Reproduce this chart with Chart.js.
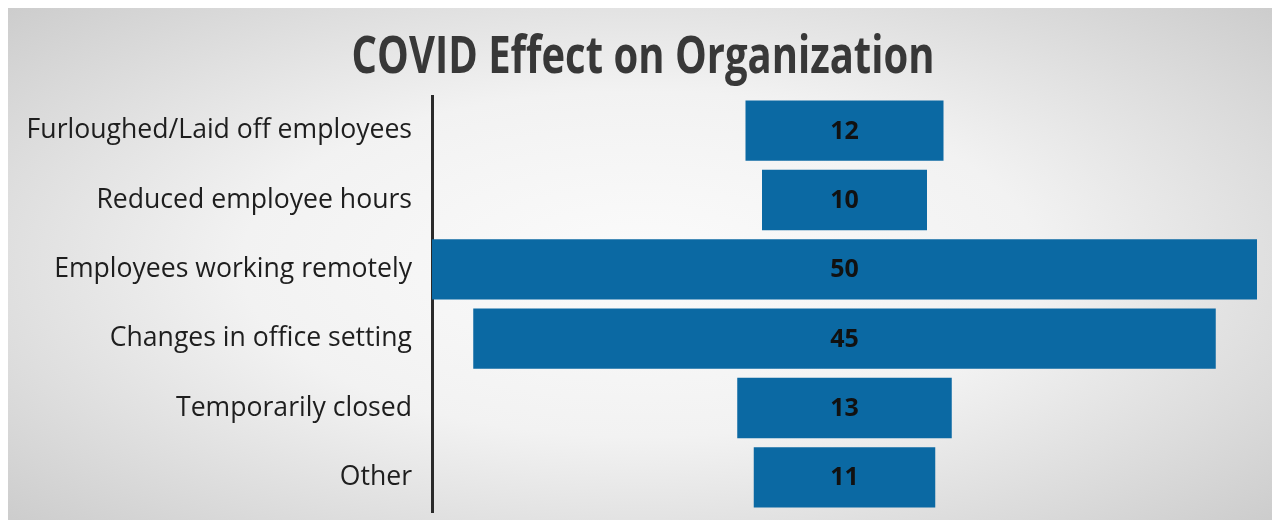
<!DOCTYPE html>
<html lang="en">

<head>
    <meta charset="UTF-8" />
    <title>COVID Effect on Organization</title>
    <script src="https://cdn.jsdelivr.net/npm/chart.js"></script>
    <style>
        html, body {
            margin: 0;
            padding: 0;
            background: #ffffff;
        }

        .frame {
            position: absolute;
            left: 8px;
            top: 8px;
            width: 1264px;
            height: 512px;
            background: radial-gradient(ellipse 70% 75% at 50% 50%, #fbfbfb 0%, #f2f2f2 45%, #cbcbcb 100%);
        }

        .wrap {
            position: absolute;
            left: 0;
            top: 0;
            width: 1279px;
            height: 523px;
        }
    </style>
</head>

<body>
    <div class="frame"></div>
    <div class="wrap">
        <canvas id="covidChart" width="1279" height="523"></canvas>
    </div>

    <script>
        const chartTitle = "COVID Effect on Organization";
        const categories = [
            "Furloughed/Laid off employees",
            "Reduced employee hours",
            "Employees working remotely",
            "Changes in office setting",
            "Temporarily closed",
            "Other"
        ];
        const counts = [12, 10, 50, 45, 13, 11];
        const maxCount = 50;

        // bars are centred on the middle of the axis, funnel style
        const centre = maxCount / 2;
        const floating = counts.map(v => [centre - v / 2, centre + v / 2]);

        // title is a bit taller than the font, so stretch it vertically
        const tallTitle = {
            id: "tallTitle",
            afterDraw(chart) {
                const ctx = chart.ctx;
                ctx.save();
                ctx.font = "bold 40px 'Open Sans', sans-serif";
                ctx.fillStyle = "#383838";
                ctx.textAlign = "center";
                ctx.textBaseline = "alphabetic";
                ctx.translate(643, 73);
                ctx.scale(1, 1.28);
                ctx.fillText(chartTitle, 0, 0);
                ctx.restore();
            }
        };

        // value labels in the middle of each bar
        const valueLabels = {
            id: "valueLabels",
            afterDatasetsDraw(chart) {
                const ctx = chart.ctx;
                const meta = chart.getDatasetMeta(0);
                ctx.save();
                ctx.font = "bold 25px 'Open Sans', sans-serif";
                ctx.fillStyle = "#111111";
                ctx.textAlign = "center";
                ctx.textBaseline = "middle";
                meta.data.forEach((bar, i) => {
                    const p = bar.getProps(["x", "y", "base"], true);
                    ctx.fillText(String(counts[i]), (p.x + p.base) / 2, p.y + 1);
                });
                ctx.restore();
            }
        };

        new Chart(document.getElementById("covidChart"), {
            type: "bar",
            data: {
                labels: categories,
                datasets: [{
                    data: floating,
                    backgroundColor: "#0b69a3",
                    borderWidth: 0,
                    borderSkipped: false,
                    categoryPercentage: 1,
                    barPercentage: 0.87
                }]
            },
            options: {
                indexAxis: "y",
                responsive: false,
                animation: false,
                layout: { padding: { left: 0, right: 22, top: 96, bottom: 11 } },
                plugins: {
                    legend: { display: false },
                    tooltip: { enabled: false },
                    title: { display: false }
                },
                scales: {
                    x: {
                        display: false,
                        min: 0,
                        max: maxCount
                    },
                    y: {
                        afterFit(scale) {
                            scale.width = 432;
                            scale.paddingTop = 0;
                            scale.paddingBottom = 0;
                        },
                        grid: { display: false, drawTicks: false },
                        border: { display: true, color: "#2a2a2a", width: 3 },
                        ticks: {
                            padding: 20,
                            color: "#1e1e1e",
                            font: { family: "'Open Sans', sans-serif", size: 26.6 }
                        }
                    }
                }
            },
            plugins: [valueLabels, tallTitle]
        });
    </script>
</body>

</html>
